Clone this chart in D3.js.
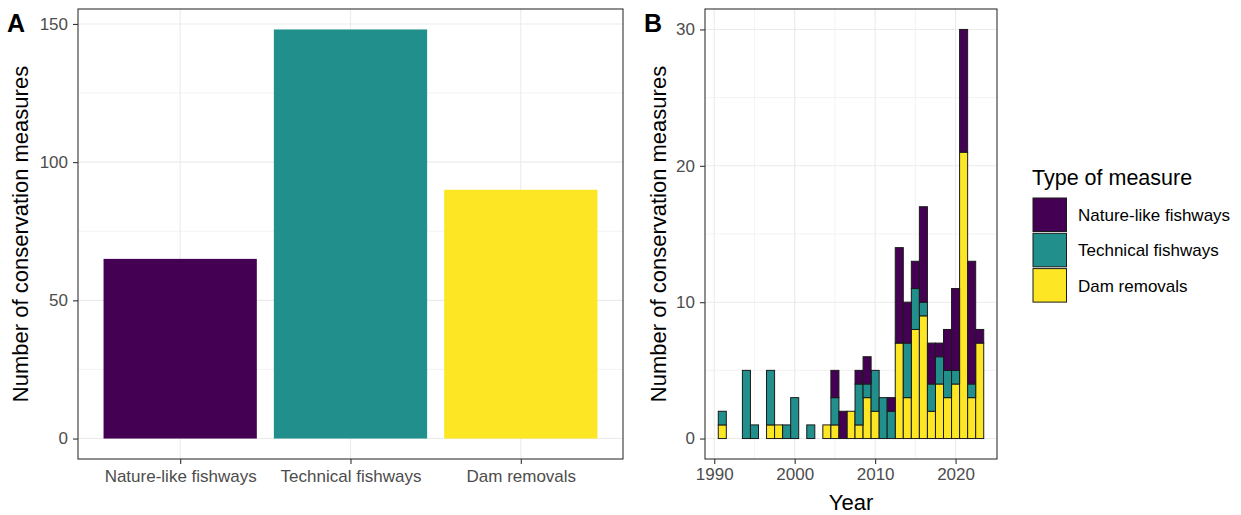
<!DOCTYPE html>
<html>
<head>
<meta charset="utf-8">
<script src="https://cdn.jsdelivr.net/npm/d3@7"></script>
<style>
  html, body { margin: 0; padding: 0; background: #fff; }
  svg { display: block; font-family: "Liberation Sans", Arial, sans-serif; }
</style>
</head>
<body>
<svg id="chart" width="1241" height="515"></svg>
<script>
// Panel A: totals per measure type
const measureTypes = ["Nature-like fishways", "Technical fishways", "Dam removals"];
const measureTotals = [65, 148, 90];

// Panel B: measures per year, one array per type
const years = [1991, 1992, 1993, 1994, 1995, 1996, 1997, 1998, 1999, 2000,
               2001, 2002, 2003, 2004, 2005, 2006, 2007, 2008, 2009, 2010,
               2011, 2012, 2013, 2014, 2015, 2016, 2017, 2018, 2019, 2020,
               2021, 2022, 2023];
const natureLike = [0, 0, 0, 0, 0, 0, 0, 0, 0, 0,
                    0, 0, 0, 0, 2, 2, 0, 1, 2, 0,
                    0, 1, 7, 3, 2, 7, 3, 1, 3, 6,
                    9, 9, 1];
const technical  = [1, 0, 0, 5, 1, 0, 4, 0, 1, 3,
                    0, 1, 0, 0, 2, 0, 0, 3, 1, 3,
                    3, 2, 0, 4, 3, 1, 2, 2, 2, 1,
                    0, 1, 0];
const damRemovals = [1, 0, 0, 0, 0, 0, 1, 1, 0, 0,
                     0, 0, 0, 1, 1, 0, 2, 1, 3, 2,
                     0, 0, 7, 3, 8, 9, 2, 4, 3, 4,
                     21, 3, 7];

const yTicksA = [0, 50, 100, 150];
const yMinorA = [25, 75, 125];
const yTicksB = [0, 10, 20, 30];
const yMinorB = [5, 15, 25];
const xTicksB = [1990, 2000, 2010, 2020];
const xMinorB = [1995, 2005, 2015];

const colors = { "Nature-like fishways": "#440154", "Technical fishways": "#21908C", "Dam removals": "#FDE725" };

const svg = d3.select("#chart");
const gridCol = "#EBEBEB";
const tickText = "#4D4D4D";
const tickFont = "17px";
const titleFont = "22px";

function drawFrame(g, w, h) {
  g.append("rect").attr("x", 0).attr("y", 0).attr("width", w).attr("height", h)
    .attr("fill", "none").attr("stroke", "#333333").attr("stroke-width", 1.1);
}

function styleAxis(ax) {
  ax.select(".domain").remove();
  ax.selectAll(".tick line").attr("stroke", "#333333").attr("stroke-width", 1.1);
  ax.selectAll(".tick text").attr("fill", tickText).style("font-size", tickFont)
    .style("font-family", "'Liberation Sans', Arial, sans-serif");
}

// ---------- Panel A ----------
const A = { left: 78, top: 9, right: 623, bottom: 459 };
const wA = A.right - A.left, hA = A.bottom - A.top;
const gA = svg.append("g").attr("transform", `translate(${A.left},${A.top})`);

const yA = d3.scaleLinear().domain([-7.4, 155.4]).range([hA, 0]);
// discrete axis with 0.6 units of expansion each side, bar width 0.9
const unitA = wA / (measureTypes.length - 1 + 1.2);
const xA = d3.scalePoint().domain(measureTypes).range([unitA * 0.6, wA - unitA * 0.6]);

yMinorA.forEach(v => gA.append("line").attr("x1", 0).attr("x2", wA)
  .attr("y1", yA(v)).attr("y2", yA(v)).attr("stroke", gridCol).attr("stroke-width", 0.6));
yTicksA.forEach(v => gA.append("line").attr("x1", 0).attr("x2", wA)
  .attr("y1", yA(v)).attr("y2", yA(v)).attr("stroke", gridCol).attr("stroke-width", 1.1));
measureTypes.forEach(d => gA.append("line").attr("x1", xA(d)).attr("x2", xA(d))
  .attr("y1", 0).attr("y2", hA).attr("stroke", gridCol).attr("stroke-width", 1.1));

gA.selectAll("rect.bar").data(measureTypes).join("rect").attr("class", "bar")
  .attr("x", d => xA(d) - unitA * 0.45)
  .attr("width", unitA * 0.9)
  .attr("y", (d, i) => yA(measureTotals[i]))
  .attr("height", (d, i) => yA(0) - yA(measureTotals[i]))
  .attr("fill", d => colors[d]);

drawFrame(gA, wA, hA);

const axLA = gA.append("g").call(d3.axisLeft(yA).tickValues(yTicksA).tickSize(5).tickPadding(5));
styleAxis(axLA);
const axBA = gA.append("g").attr("transform", `translate(0,${hA})`)
  .call(d3.axisBottom(xA).tickSize(5).tickPadding(6));
styleAxis(axBA);

svg.append("text").attr("transform", `translate(28,${A.top + hA / 2}) rotate(-90)`)
  .attr("text-anchor", "middle").style("font-size", titleFont).attr("fill", "#000")
  .text("Number of conservation measures");

svg.append("text").attr("x", 7).attr("y", 32).style("font-size", "25px")
  .style("font-weight", "bold").text("A");

// ---------- Panel B ----------
const B = { left: 705, top: 9, right: 997, bottom: 459 };
const wB = B.right - B.left, hB = B.bottom - B.top;
const gB = svg.append("g").attr("transform", `translate(${B.left},${B.top})`);

const xB = d3.scaleLinear().domain([1988.85, 2025.15]).range([0, wB]);
const yB = d3.scaleLinear().domain([-1.5, 31.5]).range([hB, 0]);

yMinorB.forEach(v => gB.append("line").attr("x1", 0).attr("x2", wB)
  .attr("y1", yB(v)).attr("y2", yB(v)).attr("stroke", gridCol).attr("stroke-width", 0.6));
xMinorB.forEach(v => gB.append("line").attr("x1", xB(v)).attr("x2", xB(v))
  .attr("y1", 0).attr("y2", hB).attr("stroke", gridCol).attr("stroke-width", 0.6));
yTicksB.forEach(v => gB.append("line").attr("x1", 0).attr("x2", wB)
  .attr("y1", yB(v)).attr("y2", yB(v)).attr("stroke", gridCol).attr("stroke-width", 1.1));
xTicksB.forEach(v => gB.append("line").attr("x1", xB(v)).attr("x2", xB(v))
  .attr("y1", 0).attr("y2", hB).attr("stroke", gridCol).attr("stroke-width", 1.1));

const rows = years.map((y, i) => ({
  year: y,
  "Dam removals": damRemovals[i],
  "Technical fishways": technical[i],
  "Nature-like fishways": natureLike[i]
}));
const stackKeys = ["Dam removals", "Technical fishways", "Nature-like fishways"];
const series = d3.stack().keys(stackKeys)(rows);

series.forEach(s => {
  gB.append("g").selectAll("rect")
    .data(s.filter(d => d[1] - d[0] > 0))
    .join("rect")
    .attr("x", d => xB(d.data.year - 0.5))
    .attr("width", d => xB(d.data.year + 0.5) - xB(d.data.year - 0.5))
    .attr("y", d => yB(d[1]))
    .attr("height", d => yB(d[0]) - yB(d[1]))
    .attr("fill", colors[s.key])
    .attr("stroke", "#1a1a1a")
    .attr("stroke-width", 1);
});

drawFrame(gB, wB, hB);

const axLB = gB.append("g").call(d3.axisLeft(yB).tickValues(yTicksB).tickSize(5).tickPadding(5));
styleAxis(axLB);
const axBB = gB.append("g").attr("transform", `translate(0,${hB})`)
  .call(d3.axisBottom(xB).tickValues(xTicksB).tickFormat(d3.format("d")).tickSize(5).tickPadding(4));
styleAxis(axBB);

svg.append("text").attr("transform", `translate(666,${B.top + hB / 2}) rotate(-90)`)
  .attr("text-anchor", "middle").style("font-size", titleFont).attr("fill", "#000")
  .text("Number of conservation measures");
svg.append("text").attr("x", B.left + wB / 2).attr("y", 510)
  .attr("text-anchor", "middle").style("font-size", titleFont).attr("fill", "#000")
  .text("Year");

svg.append("text").attr("x", 644).attr("y", 32).style("font-size", "25px")
  .style("font-weight", "bold").text("B");

// ---------- Legend ----------
const legend = svg.append("g").attr("transform", "translate(1033,170)");
legend.append("text").attr("x", -1).attr("y", 15).style("font-size", "21.5px").attr("fill", "#000")
  .text("Type of measure");
measureTypes.forEach((t, i) => {
  const row = legend.append("g").attr("transform", `translate(0,${28 + i * 35.3})`);
  row.append("rect").attr("width", 33.5).attr("height", 33.5)
    .attr("fill", colors[t]).attr("stroke", "#1a1a1a").attr("stroke-width", 1);
  row.append("text").attr("x", 45).attr("y", 17).attr("dy", "0.35em")
    .style("font-size", "17px").attr("fill", "#000").text(t);
});
</script>
</body>
</html>
